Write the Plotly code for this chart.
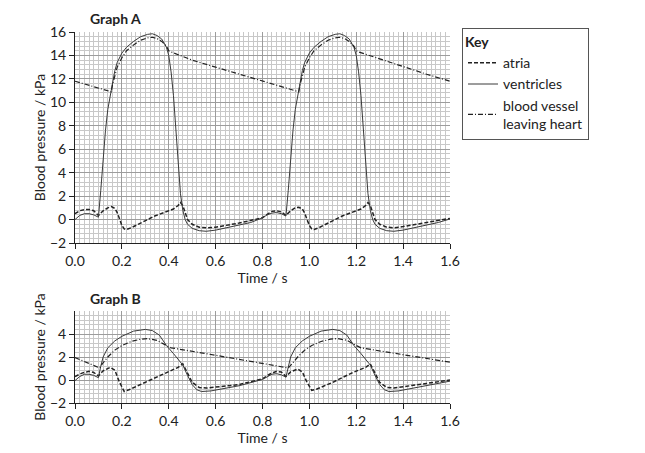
"""
heart_pressure.py — blood pressure in atria, ventricles and the vessel leaving the heart.
"""
import plotly.graph_objects as go

INK      = "#222222"
GRID_MAJ = "#9c9c9c"
GRID_MIN = "#c8c8c8"
FONT     = "Lato"

# ---- Graph A -------------------------------------------------------------
A_VEN_T = [0.00, 0.02, 0.04, 0.06, 0.08, 0.10, 0.11, 0.12, 0.13, 0.14, 0.15, 0.16,
           0.17, 0.18, 0.20, 0.22, 0.25, 0.28, 0.31, 0.33, 0.35, 0.37, 0.38, 0.39,
           0.40, 0.41, 0.42, 0.43, 0.44, 0.45, 0.46, 0.47, 0.48, 0.50, 0.53, 0.56,
           0.60, 0.65, 0.70, 0.75, 0.80,
           0.82, 0.84, 0.86, 0.88, 0.90, 0.91, 0.92, 0.93, 0.94, 0.95, 0.96,
           0.97, 0.98, 1.00, 1.02, 1.05, 1.08, 1.11, 1.13, 1.15, 1.17, 1.18, 1.19,
           1.20, 1.21, 1.22, 1.23, 1.24, 1.25, 1.26, 1.27, 1.28, 1.30, 1.33, 1.36,
           1.40, 1.45, 1.50, 1.55, 1.60]
A_VEN_P = [0.0, 0.35, 0.5, 0.5, 0.4, 0.2, 2.5, 5.2, 7.6, 9.4, 10.6, 11.8,
           12.7, 13.4, 14.2, 14.7, 15.2, 15.6, 15.8, 15.85, 15.7, 15.4, 15.1, 14.7,
           14.0, 12.6, 10.6, 8.0, 5.0, 2.2, 0.8, 0.0, -0.4, -0.75, -0.95, -1.0,
           -0.9, -0.7, -0.5, -0.25, 0.15,
           0.4, 0.55, 0.6, 0.5, 0.3, 2.5, 5.2, 7.6, 9.4, 10.6, 11.8,
           12.7, 13.4, 14.2, 14.7, 15.2, 15.6, 15.8, 15.85, 15.7, 15.4, 15.1, 14.7,
           14.0, 12.6, 10.6, 8.0, 5.0, 2.2, 0.8, 0.0, -0.4, -0.75, -0.95, -1.0,
           -0.9, -0.7, -0.5, -0.25, 0.05]

A_ATR_T = [0.00, 0.02, 0.04, 0.06, 0.08, 0.10, 0.12, 0.14, 0.155, 0.17, 0.18, 0.19,
           0.20, 0.21, 0.22, 0.24, 0.27, 0.30, 0.34, 0.38, 0.42, 0.44, 0.45, 0.46,
           0.47, 0.48, 0.50, 0.53, 0.56, 0.60, 0.70, 0.80,
           0.82, 0.84, 0.86, 0.88, 0.90, 0.92, 0.94, 0.955, 0.97, 0.98, 0.99,
           1.00, 1.01, 1.02, 1.04, 1.07, 1.10, 1.14, 1.18, 1.22, 1.24, 1.25, 1.26,
           1.27, 1.28, 1.30, 1.33, 1.36, 1.40, 1.50, 1.60]
A_ATR_P = [0.5, 0.75, 0.85, 0.85, 0.75, 0.35, 0.75, 1.0, 1.1, 0.95, 0.6, 0.0,
           -0.5, -0.8, -0.85, -0.7, -0.4, -0.1, 0.3, 0.6, 0.9, 1.2, 1.45, 1.2,
           0.6, 0.0, -0.4, -0.65, -0.7, -0.65, -0.3, 0.15,
           0.45, 0.7, 0.75, 0.65, 0.35, 0.75, 1.0, 1.05, 0.9, 0.55, 0.0,
           -0.5, -0.8, -0.85, -0.7, -0.4, -0.1, 0.3, 0.6, 0.9, 1.2, 1.45, 1.2,
           0.6, 0.0, -0.4, -0.65, -0.7, -0.6, -0.25, 0.1]

A_VES_T = [0.00, 0.155, 0.16, 0.17, 0.18, 0.20, 0.22, 0.25, 0.28, 0.31, 0.33, 0.35,
           0.37, 0.39, 0.40, 0.41, 0.50, 0.60, 0.70, 0.80, 0.90, 0.955,
           0.96, 0.97, 0.98, 1.00, 1.02, 1.05, 1.08, 1.11, 1.13, 1.15, 1.17, 1.19,
           1.20, 1.21, 1.30, 1.40, 1.50, 1.60]
A_VES_P = [11.8, 10.9, 11.5, 12.3, 13.0, 13.8, 14.4, 14.9, 15.3, 15.5, 15.55, 15.45,
           15.2, 14.8, 14.4, 14.3, 13.6, 13.0, 12.4, 11.8, 11.2, 10.9,
           11.5, 12.3, 13.0, 13.8, 14.4, 14.9, 15.3, 15.5, 15.55, 15.45, 15.2, 14.8,
           14.4, 14.3, 13.7, 13.1, 12.4, 11.8]

# ---- Graph B -------------------------------------------------------------
B_VEN_T = [0.00, 0.02, 0.04, 0.06, 0.08, 0.10, 0.11, 0.12, 0.14, 0.17, 0.20, 0.22,
           0.25, 0.30, 0.33, 0.36, 0.39, 0.42, 0.44, 0.46, 0.48, 0.50, 0.52, 0.54,
           0.58, 0.70, 0.80,
           0.82, 0.84, 0.86, 0.88, 0.90, 0.91, 0.92, 0.94, 0.97, 1.00, 1.02,
           1.05, 1.10, 1.13, 1.16, 1.19, 1.22, 1.24, 1.26, 1.28, 1.30, 1.32, 1.34,
           1.38, 1.50, 1.60]
B_VEN_P = [-0.05, 0.3, 0.5, 0.5, 0.4, 0.2, 1.2, 2.0, 2.8, 3.4, 3.8, 4.0,
           4.25, 4.4, 4.3, 3.9, 3.0, 2.3, 1.8, 1.3, 0.4, -0.4, -0.85, -1.0,
           -0.95, -0.5, 0.05,
           0.3, 0.5, 0.55, 0.45, 0.25, 1.2, 2.0, 2.8, 3.4, 3.8, 4.0,
           4.25, 4.4, 4.3, 3.9, 3.0, 2.3, 1.8, 1.3, 0.4, -0.4, -0.85, -1.0,
           -0.95, -0.5, -0.1]

B_ATR_T = [0.00, 0.03, 0.06, 0.08, 0.10, 0.12, 0.15, 0.17, 0.19, 0.21, 0.23, 0.30,
           0.38, 0.44, 0.46, 0.48, 0.50, 0.53, 0.56, 0.70, 0.80,
           0.83, 0.86, 0.88, 0.90, 0.92, 0.95, 0.97, 0.99, 1.01, 1.03, 1.10,
           1.18, 1.24, 1.26, 1.28, 1.30, 1.33, 1.36, 1.50, 1.60]
B_ATR_P = [0.3, 0.6, 0.75, 0.65, 0.35, 0.8, 1.1, 0.85, -0.2, -1.0, -0.85, -0.2,
           0.6, 1.1, 1.4, 0.6, -0.2, -0.65, -0.7, -0.4, 0.1,
           0.5, 0.75, 0.7, 0.3, 0.7, 0.95, 0.7, -0.2, -0.9, -0.8, -0.2,
           0.6, 1.1, 1.4, 0.6, -0.2, -0.65, -0.7, -0.3, 0.0]

B_VES_T = [0.00, 0.105, 0.12, 0.14, 0.17, 0.20, 0.24, 0.28, 0.31, 0.35, 0.39, 0.41,
           0.60, 0.75, 0.91,
           0.93, 0.95, 0.98, 1.01, 1.05, 1.09, 1.12, 1.16, 1.20, 1.22, 1.40, 1.60]
B_VES_P = [1.95, 1.05, 1.5, 2.0, 2.6, 3.0, 3.35, 3.55, 3.6, 3.45, 3.0, 2.8,
           2.15, 1.6, 1.05,
           1.5, 2.0, 2.6, 3.0, 3.35, 3.55, 3.6, 3.45, 3.0, 2.8, 2.2, 1.55]

X_TICKS = [0.0, 0.2, 0.4, 0.6, 0.8, 1.0, 1.2, 1.4, 1.6]
X_TEXT  = ["0.0", "0.2", "0.4", "0.6", "0.8", "1.0", "1.2", "1.4", "1.6"]

STYLE = {
    "atria":      dict(color=INK, width=1.5, dash="4px,2px"),
    "ventricles": dict(color="#3a3a3a", width=1),
    "vessel":     dict(color=INK, width=1.2, dash="5px,2px,1px,2px"),
}

# the page body adds an 8px offset, so the figure is a little smaller than the window
OFF = 8
W, H = 645 - OFF, 453 - OFF


def px_x(p):
    return (p - OFF) / W


def px_y(p):
    return 1 - (p - OFF) / H


fig = go.Figure()


def add_graph(xa, ya, ven, atr, ves, legend):
    fig.add_trace(go.Scatter(x=atr[0], y=atr[1], mode="lines", line=STYLE["atria"],
                             name="atria", xaxis=xa, yaxis=ya, showlegend=legend))
    fig.add_trace(go.Scatter(x=ven[0], y=ven[1], mode="lines", line=STYLE["ventricles"],
                             name="ventricles", xaxis=xa, yaxis=ya, showlegend=legend))
    fig.add_trace(go.Scatter(x=ves[0], y=ves[1], mode="lines", line=STYLE["vessel"],
                             name="blood vessel<br>leaving heart", xaxis=xa, yaxis=ya,
                             showlegend=legend))


add_graph("x", "y", (A_VEN_T, A_VEN_P), (A_ATR_T, A_ATR_P), (A_VES_T, A_VES_P), True)
add_graph("x2", "y2", (B_VEN_T, B_VEN_P), (B_ATR_T, B_ATR_P), (B_VES_T, B_VES_P), False)

XDOM = [px_x(75), px_x(450)]
A_DOM = [px_y(243), px_y(32)]
B_DOM = [px_y(403), px_y(311)]

tick_font = dict(family=FONT, size=14, color=INK)
title_font = dict(family=FONT, size=14, color=INK)


def x_main(anchor):
    return dict(
        domain=XDOM, anchor=anchor, range=[0, 1.6], tickvals=X_TICKS, ticktext=X_TEXT,
        ticks="outside", ticklen=5, tickcolor=INK, showline=True, linecolor=INK,
        linewidth=1, showgrid=True, gridcolor=GRID_MAJ, gridwidth=1.4, zeroline=False,
        minor=dict(dtick=0.02, showgrid=True, gridcolor=GRID_MIN, gridwidth=1),
        tickfont=tick_font, automargin=False,
        title=dict(text="Time / s", font=title_font, standoff=2),
    )


def x_grid(overlay, anchor):
    # coarser 0.1 s grid lines drawn over the 0.02 s minor grid
    return dict(
        domain=XDOM, anchor=anchor, overlaying=overlay, range=[0, 1.6], dtick=0.1,
        tick0=0, showgrid=True, gridcolor=GRID_MAJ, gridwidth=1.4, showticklabels=False,
        ticks="", showline=False, zeroline=False, automargin=False,
    )


def y_main(anchor, dom, rng, tickvals):
    return dict(
        domain=dom, anchor=anchor, range=rng, tickvals=tickvals,
        ticks="outside", ticklen=5, tickcolor=INK, showline=True, linecolor=INK,
        linewidth=1, showgrid=True, gridcolor=GRID_MAJ, gridwidth=1.4, zeroline=False,
        minor=dict(dtick=0.4, tick0=0, showgrid=True, gridcolor=GRID_MIN, gridwidth=1),
        tickfont=tick_font, automargin=False,
        title=dict(text="Blood pressure / kPa", font=title_font, standoff=1),
    )


fig.update_layout(
    width=W, height=H,
    paper_bgcolor="white", plot_bgcolor="white",
    font=dict(family=FONT, size=14, color=INK),
    margin=dict(l=0, r=0, t=0, b=0, autoexpand=False),
    xaxis=x_main("y"),
    xaxis2=x_main("y2"),
    xaxis3=x_grid("x", "y"),
    xaxis4=x_grid("x2", "y2"),
    yaxis=y_main("x", A_DOM, [-2, 16], list(range(-2, 17, 2))),
    yaxis2=y_main("x2", B_DOM, [-2, 6], [-2, 0, 2, 4]),
    showlegend=True,
    legend=dict(
        x=px_x(462), y=px_y(28), xanchor="left", yanchor="top",
        bordercolor="#555555", borderwidth=1, bgcolor="white",
        title=dict(text="<b>Key</b>", font=dict(family=FONT, size=14, color=INK)),
        font=dict(family=FONT, size=14, color=INK),
        itemwidth=30, tracegroupgap=0,
    ),
    annotations=[
        dict(text="<b>Graph A</b>", x=px_x(88), y=px_y(18), xref="paper", yref="paper",
             xanchor="left", yanchor="middle", showarrow=False,
             font=dict(family=FONT, size=14, color=INK)),
        dict(text="<b>Graph B</b>", x=px_x(88), y=px_y(298), xref="paper", yref="paper",
             xanchor="left", yanchor="middle", showarrow=False,
             font=dict(family=FONT, size=14, color=INK)),
    ],
)

fig.write_html("out.html")
